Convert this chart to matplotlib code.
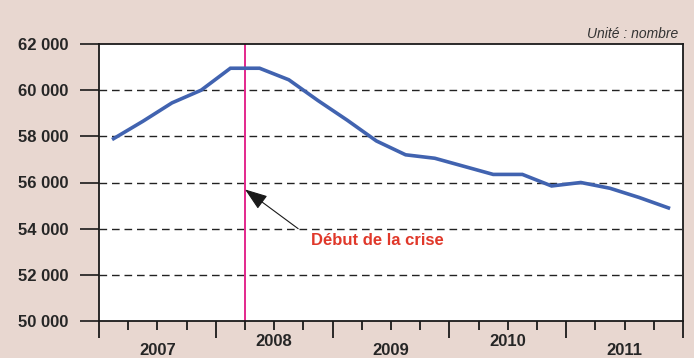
import numpy as np
import matplotlib
matplotlib.use("Agg")
import matplotlib.pyplot as plt
from matplotlib.ticker import FixedLocator, FuncFormatter

plt.rcParams['font.family'] = ['Liberation Sans', 'DejaVu Sans']

# quarterly values, 2007 Q1 -> 2011 Q4
years = [2007, 2008, 2009, 2010, 2011]
values = [57900, 58650, 59450, 60000,
          60950, 60950, 60450, 59550,
          58700, 57800, 57200, 57050,
          56700, 56350, 56350, 55850,
          56000, 55750, 55350, 54900]
crisis_quarter = 5          # line drawn at the start of 2008 Q2
crisis_label = "Début de la crise"
unit_label = "Unité : nombre"

bg = "#e8d7d0"
blue = "#4163b0"
magenta = "#e3288c"
red_txt = "#e0382a"
txt = "#262626"

fig = plt.figure(figsize=(6.94, 3.58), dpi=100, facecolor=bg)
ax = fig.add_axes([99 / 694, 37 / 358, 584 / 694, 277 / 358])
ax.set_facecolor("white")

x = np.arange(len(values)) + 0.5
ax.plot(x, values, color=blue, lw=2.6, solid_joinstyle="miter", zorder=3)

ax.set_xlim(0, len(values))
ax.set_ylim(50000, 62000)

# horizontal dashed grid
for v in range(52000, 62000, 2000):
    ax.axhline(v, color="#222222", lw=1.0, ls=(0, (5.5, 3.5)), zorder=1)

ax.axvline(crisis_quarter, color=magenta, lw=1.4, zorder=2)

for s in ax.spines.values():
    s.set_color("#1a1a1a")
    s.set_linewidth(1.3)

ax.yaxis.set_major_locator(FixedLocator(range(50000, 62001, 2000)))
ax.yaxis.set_major_formatter(FuncFormatter(lambda v, p: f"{int(v):,}".replace(",", " ")))
ax.tick_params(axis="y", direction="out", length=14, width=1.2, color="#1a1a1a",
               pad=8, labelsize=12, labelcolor=txt)
for lab in ax.get_yticklabels():
    lab.set_fontweight("bold")

ax.xaxis.set_major_locator(FixedLocator(range(0, 21, 4)))
ax.xaxis.set_minor_locator(FixedLocator(range(0, 21)))
ax.tick_params(axis="x", which="major", direction="out", length=12.5, width=1.3,
               color="#1a1a1a", labelbottom=False)
ax.tick_params(axis="x", which="minor", direction="out", length=6.5, width=1.3,
               color="#1a1a1a")

# year labels, staggered
for i, yr in enumerate(years):
    ypos = -0.105 if i % 2 == 0 else -0.075
    ax.text(4 * i + 2, ypos, str(yr), transform=ax.get_xaxis_transform(),
            ha="center", va="center", fontsize=12, fontweight="bold", color=txt)

# arrow pointing at the crisis line, label below-right
ax.annotate("", xy=(crisis_quarter, 55700), xytext=(6.82, 54000),
            arrowprops=dict(arrowstyle="-|>,head_length=1.4,head_width=0.5",
                            color="#1a1a1a", lw=0.8, shrinkA=0, shrinkB=0))
ax.text(7.25, 53500, crisis_label, color=red_txt, fontsize=12,
        fontweight="bold", ha="left", va="center")

fig.text(678 / 694, 1 - 34 / 358, unit_label, ha="right", va="center",
         fontsize=10, style="italic", color="#333333")

# chart title sits just above the visible area
fig.text(215 / 694, 1.0 + 0.02, "p", ha="left", va="baseline",
         fontsize=14, fontweight="bold", color="#9b1b30")

fig.savefig("out.png", dpi=100, facecolor=bg)
